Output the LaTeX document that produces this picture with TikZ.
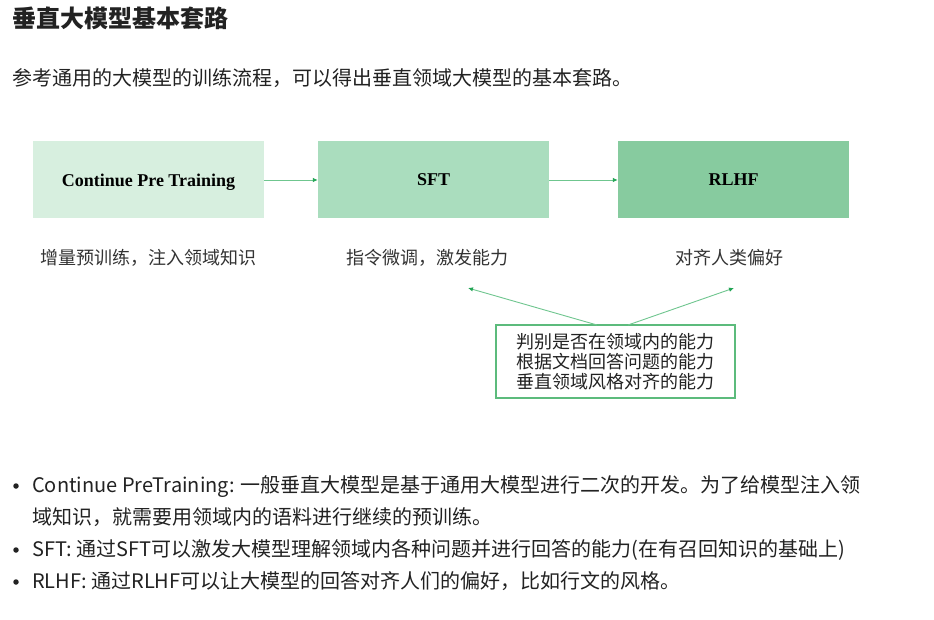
\documentclass[tikz,border=0pt]{standalone}
\usepackage{fontspec}
\setmainfont{Liberation Serif}
\newfontfamily\cjk{Noto Sans CJK SC}
\usetikzlibrary{arrows.meta}
\definecolor{boxa}{HTML}{D7EFDF}
\definecolor{boxb}{HTML}{AADDBE}
\definecolor{boxc}{HTML}{87CB9F}
\definecolor{lineg}{HTML}{6FC68F}
\definecolor{headg}{HTML}{22A555}
\definecolor{frameg}{HTML}{5CBB7C}
\definecolor{txt}{HTML}{222222}
\definecolor{lbltxt}{HTML}{333333}
\tikzset{
  stagebox/.style={minimum width=231pt, minimum height=77pt, inner sep=0pt, draw=none,
    font=\fontsize{18}{21}\selectfont\bfseries, text=black, text depth=0pt},
  arr/.style={draw=lineg, line width=0.9pt, -{Latex[length=5pt,width=4.5pt,color=headg]}},
  lbl/.style={inner sep=0pt, font=\cjk\fontsize{18}{22}\selectfont, text=lbltxt},
  body/.style={inner sep=0pt, anchor=base west, font=\cjk\fontsize{20}{24}\selectfont, text=txt},
  dot/.style={circle, fill=txt, inner sep=0pt, minimum size=5.5pt}
}
\begin{document}
\begin{tikzpicture}[x=1pt,y=-1pt]
\useasboundingbox (0,0) rectangle (934,620);
\fill[white] (0,0) rectangle (934,620);

% title and intro
\node[inner sep=0pt, anchor=west, font=\cjk\bfseries\fontsize{24}{28}\selectfont, text=txt] (title) at (12,18) {垂直大模型基本套路};
\node[body] (intro) at (12,85.5) {参考通用的大模型的训练流程，可以得出垂直领域大模型的基本套路。};

% stages
\node[stagebox, fill=boxa] (cpt) at (148.5,180) {Continue Pre Training};
\node[stagebox, fill=boxb] (sft) at (433.5,180) {SFT};
\node[stagebox, fill=boxc] (rlhf) at (733.5,180) {RLHF};
\draw[arr] (cpt.east) -- (sft.west);
\draw[arr] (sft.east) -- (rlhf.west);

% labels
\node[lbl] (l1) at (148,258) {增量预训练，注入领域知识};
\node[lbl] (l2) at (427,258) {指令微调，激发能力};
\node[lbl] (l3) at (729,258) {对齐人类偏好};

% abilities box
\node[draw=frameg, line width=1.3pt, fill=white, minimum width=239pt, minimum height=73pt,
  inner sep=0pt, align=center, font=\cjk\fontsize{18}{20}\selectfont, text=txt] (abil) at (615.5,361.5)
  {判别是否在领域内的能力\\根据文档回答问题的能力\\垂直领域风格对齐的能力};
\coordinate (t1) at (468,288);
\coordinate (t2) at (734,288);
\coordinate (s1) at (597,325);
\coordinate (s2) at (628,325);
\draw[arr] (s1) -- (t1);
\draw[arr] (s2) -- (t2);

% bullets
\node[dot] (b1) at (16,486) {};
\node[dot] (b2) at (16,550) {};
\node[dot] (b3) at (16,582) {};
\node[body] (p1a) at (32,492.6) {Continue PreTraining: 一般垂直大模型是基于通用大模型进行二次的开发。为了给模型注入领};
\node[body] (p1b) at (32,524.6) {域知识，就需要用领域内的语料进行继续的预训练。};
\node[body] (p2) at (32,556.6) {SFT: 通过SFT可以激发大模型理解领域内各种问题并进行回答的能力(在有召回知识的基础上)};
\node[body] (p3) at (32,588.6) {RLHF: 通过RLHF可以让大模型的回答对齐人们的偏好，比如行文的风格。};
\end{tikzpicture}
\end{document}
